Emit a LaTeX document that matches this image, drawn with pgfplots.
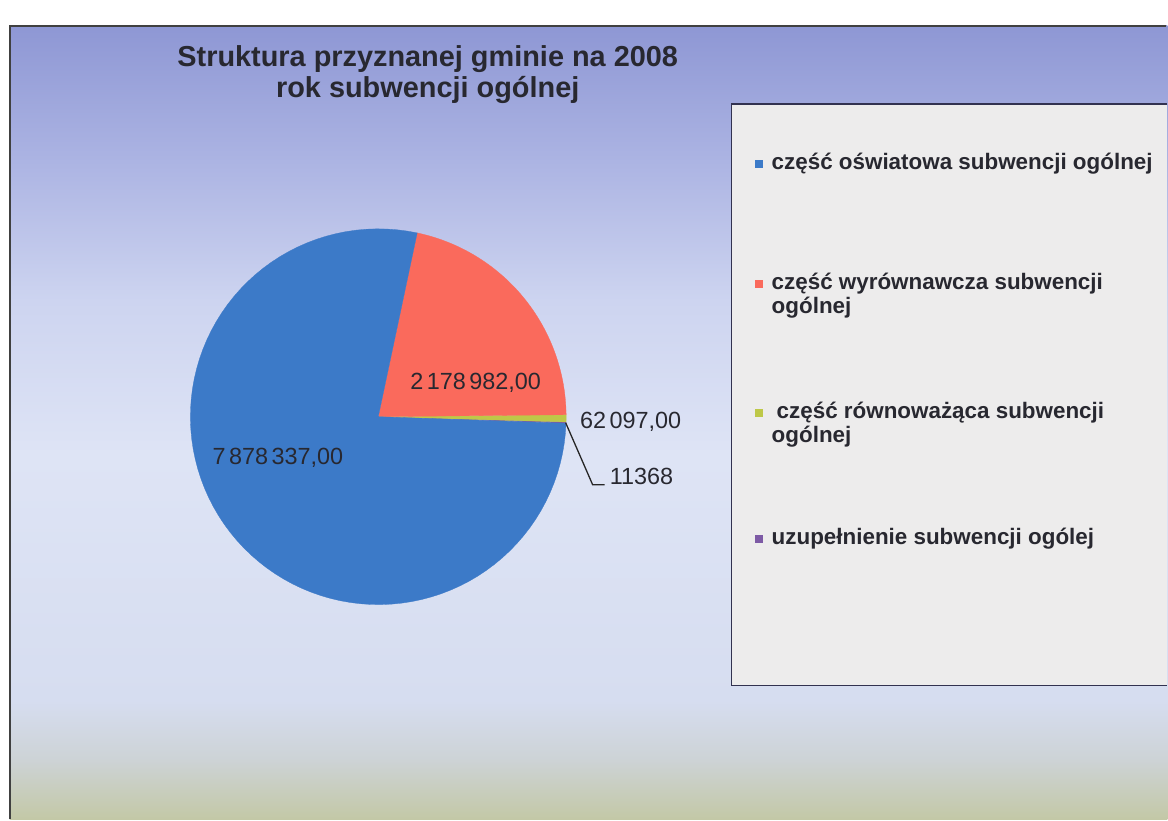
\documentclass[border=0pt]{standalone}
\usepackage{pgfplots}
\pgfplotsset{compat=1.18}
\usepackage{pgfplotstable}
\usepackage{fontspec}
\setmainfont{Liberation Sans}

\definecolor{pieblue}{RGB}{60,122,200}
\definecolor{piered}{RGB}{250,106,92}
\definecolor{piegreen}{RGB}{190,200,72}
\definecolor{piepurple}{RGB}{125,90,165}
\definecolor{txt}{RGB}{40,40,48}
\definecolor{legfill}{RGB}{237,236,236}
\definecolor{legborder}{RGB}{50,50,80}

\definecolor{c0}{RGB}{195,200,166}
\definecolor{c1}{RGB}{205,211,214}
\definecolor{c2}{RGB}{214,221,240}
\definecolor{c3}{RGB}{222,228,245}
\definecolor{c4}{RGB}{205,212,240}
\definecolor{c5}{RGB}{170,178,226}
\definecolor{c6}{RGB}{142,151,212}
\pgfdeclareverticalshading{bgshade}{100bp}{color(0bp)=(c0); color(25bp)=(c0); color(28.8bp)=(c1); color(32.5bp)=(c2); color(48bp)=(c3); color(57.7bp)=(c4); color(67bp)=(c5); color(75bp)=(c6); color(100bp)=(c6)}

\pgfplotstableread{
id value
1 7878337
2 2178982
3 62097
4 11368
}\pietable

\newcommand\slice[3]{%
  \filldraw[#1, line width=0.3bp] (axis cs:0,0) \foreach \i in {0,...,90} { -- (axis cs:{cos((#2)+((#3)-(#2))*\i/90)},{sin((#2)+((#3)-(#2))*\i/90)}) } -- cycle;}

\newcommand\gs{\kern0.15em}

\begin{document}%
\begin{tikzpicture}[x=1bp,y=1bp]
\pgfplotstablegetelem{0}{value}\of\pietable \global\let\vA\pgfplotsretval
\pgfplotstablegetelem{1}{value}\of\pietable \global\let\vB\pgfplotsretval
\pgfplotstablegetelem{2}{value}\of\pietable \global\let\vC\pgfplotsretval
\pgfplotstablegetelem{3}{value}\of\pietable \global\let\vD\pgfplotsretval
\xdef\tot{\fpeval{\vA+\vB+\vC+\vD}}
\gdef\aP{-2.0}
\xdef\aPe{\fpeval{\aP+360*\vD/\tot}}
\xdef\aGe{\fpeval{\aPe+360*\vC/\tot}}
\xdef\aRe{\fpeval{\aGe+360*\vB/\tot}}
\xdef\aBe{\fpeval{\aRe+360*\vA/\tot}}
\fill[white] (0,0) rectangle (1168,820);
\shade[shading=bgshade] (10,0) rectangle (1168,794);
\draw[black!75, line width=2bp] (10,0) -- (10,794) -- (1167,794);

% title
\node[font=\bfseries\fontsize{29}{31}\selectfont, text=txt, anchor=base, inner sep=0] at (428,820-67) {Struktura przyznanej gminie na 2008};
\node[font=\bfseries\fontsize{29}{31}\selectfont, text=txt, anchor=base, inner sep=0] at (428,820-98) {rok subwencji ogólnej};

% legend box
\fill[legfill] (732,820-104) rectangle (1168,820-686);
\draw[legborder, line width=1.5bp] (1168,820-104) -- (732,820-104) -- (732,820-686) -- (1168,820-686);
\begin{scope}[every node/.style={font=\bfseries\fontsize{22.5}{24}\selectfont, text=txt, anchor=base west, inner sep=0}]
\fill[pieblue] (755,820-168) rectangle (763,820-160);
\node at (772,820-170) {część oświatowa subwencji ogólnej};
\fill[piered] (755,820-288) rectangle (763,820-280);
\node at (772,820-290) {część wyrównawcza subwencji};
\node at (772,820-314) {ogólnej};
\fill[piegreen] (755,820-417) rectangle (763,820-409);
\node at (777,820-419) {część równoważąca subwencji};
\node at (772,820-443) {ogólnej};
\fill[piepurple] (755,820-543) rectangle (763,820-535);
\node at (772,820-545) {uzupełnienie subwencji ogólej};
\end{scope}

% pie
\begin{axis}[at={(378.5bp,403bp)}, anchor=center, width=376bp, height=376bp,
  scale only axis, xmin=-1, xmax=1, ymin=-1, ymax=1, hide axis, clip=false]
\slice{piepurple}{\aP}{\aPe}
\slice{piegreen}{\aPe}{\aGe}
\slice{piered}{\aGe}{\aRe}
\slice{pieblue}{\aRe}{\aBe}
\end{axis}

% data labels
\begin{scope}[every node/.style={font=\fontsize{23.5}{26}\selectfont, text=txt, inner sep=0}]
\node at (278,820-458) {7\gs878\gs337,00};
\node at (476,820-383) {2\gs178\gs982,00};
\node at (631,820-422) {62\gs097,00};
\node at (642,820-477) {11368};
\end{scope}
\draw[black!85, line width=1.3bp] (566,820-423) -- (593,820-485) -- (605,820-485);
\end{tikzpicture}%
\end{document}
